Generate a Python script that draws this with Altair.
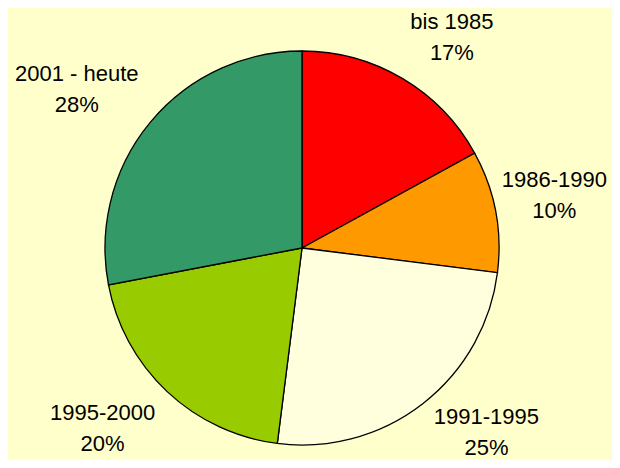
import altair as alt
import pandas as pd

categories = ["bis 1985", "1986-1990", "1991-1995", "1995-2000", "2001 - heute"]
shares = [17, 10, 25, 20, 28]
colors = ["#FF0000", "#FF9900", "#FFFFDD", "#99CC00", "#339966"]

df = pd.DataFrame({
    "cat": categories,
    "share": shares,
    "order": list(range(len(categories))),
    "label": [[c, f"{s}%"] for c, s in zip(categories, shares)],
})

base = alt.Chart(df).encode(
    theta=alt.Theta("share:Q", stack=True),
    order=alt.Order("order:Q"),
    x=alt.value(294), y=alt.value(240),
)

pie = base.mark_arc(radius=197, stroke="black", strokeWidth=1.3).encode(
    color=alt.Color("cat:N", scale=alt.Scale(domain=categories, range=colors), legend=None),
)

# label placement nudges (like the spreadsheet's outside-end label layout)
nudges = {
    "bis 1985": (15, 2),
    "1986-1990": (-8, -18),
    "1991-1995": (22, -40),
    "1995-2000": (-18, -28),
    "2001 - heute": (-21, -5),
}

layers = [pie]
for cat in categories:
    ndx, ndy = nudges[cat]
    layers.append(
        base.mark_text(radius=265, font="Liberation Sans", fontSize=22, lineHeight=31,
                       color="black", align="center", baseline="middle", dx=ndx, dy=ndy)
        .encode(text="label", opacity=alt.condition(alt.datum.cat == cat, alt.value(1), alt.value(0)))
    )

chart = alt.layer(*layers).properties(
    width=604, height=452, background="#FFFFCC", padding=0,
    autosize=alt.AutoSizeParams(type="none"),
).configure_view(stroke=None)

chart.save("out.html", embed_options={"renderer": "svg", "actions": False})
